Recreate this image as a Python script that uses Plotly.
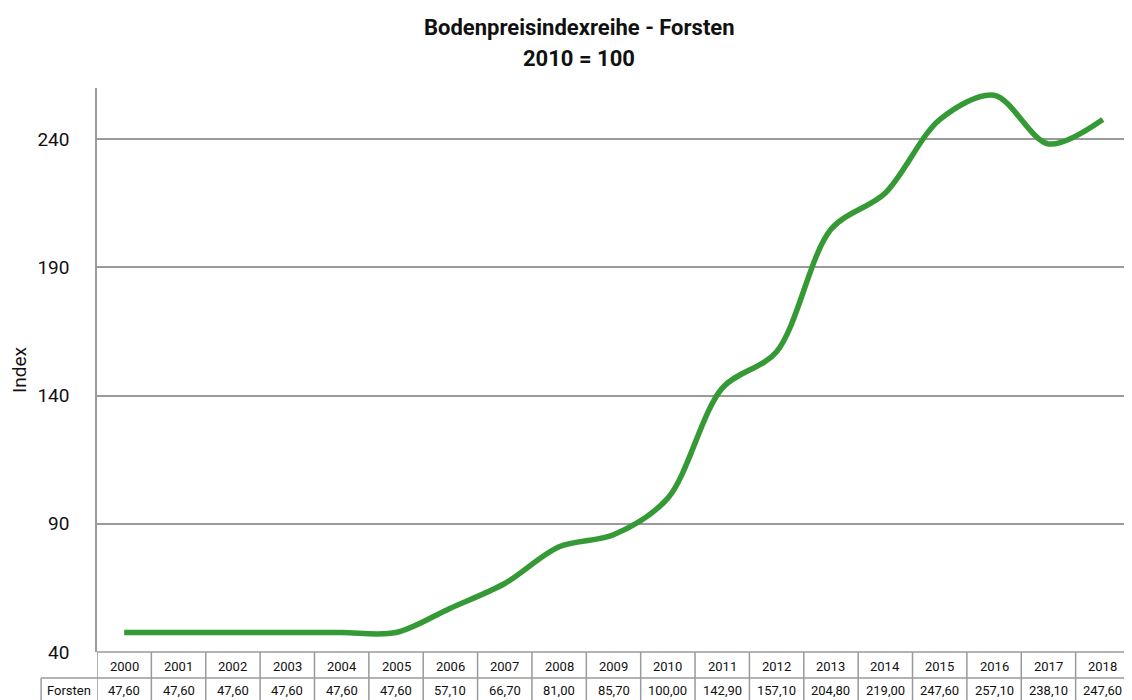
import plotly.graph_objects as go

years = ["2000", "2001", "2002", "2003", "2004", "2005", "2006", "2007", "2008", "2009",
         "2010", "2011", "2012", "2013", "2014", "2015", "2016", "2017", "2018"]
forsten = [47.6, 47.6, 47.6, 47.6, 47.6, 47.6, 57.1, 66.7, 81.0, 85.7,
           100.0, 142.9, 157.1, 204.8, 219.0, 247.6, 257.1, 238.1, 247.6]
series_name = "Forsten"
y_ticks = [40, 90, 140, 190, 240]
title_lines = ["Bodenpreisindexreihe - Forsten", "2010 = 100"]

# page body has an 8px margin, so the figure is sized to fit the 1132x700 window
W, H = 1124, 692
m_l, m_r, m_t, m_b = 87, 2, 80, 48
plot_h = H - m_t - m_b
plot_w = W - m_l - m_r
FONT = "Roboto, Liberation Sans, Arial"
GRID = "#9a9a9a"
TXT = "#111111"

def py(px):
    # pixel offset below plot bottom -> paper coordinate
    return -px / plot_h

def px_x(px):
    # pixel offset from plot left -> paper coordinate
    return px / plot_w

n = len(years)
xs = list(range(n))

fig = go.Figure()
fig.add_trace(go.Scatter(
    x=xs, y=forsten, mode="lines", name=series_name,
    line=dict(color="#359a35", width=5.5, shape="spline", smoothing=0.9),
    hoverinfo="x+y", showlegend=False,
))

shapes = []
annotations = []
row1_bot = 26
line_style = dict(color=GRID, width=1.5)
label_left = px_x(-56)
# horizontal lines of table
shapes.append(dict(type="line", xref="x", yref="paper", x0=-0.5, x1=n - 0.5,
                   y0=0, y1=0, line=line_style))
shapes.append(dict(type="line", xref="paper", yref="paper", x0=label_left, x1=1,
                   y0=py(row1_bot), y1=py(row1_bot), line=line_style))
# vertical borders
for i in range(n + 1):
    shapes.append(dict(type="line", xref="x", yref="paper", x0=i - 0.5, x1=i - 0.5,
                       y0=0, y1=py(60), line=line_style))
shapes.append(dict(type="line", xref="paper", yref="paper", x0=label_left, x1=label_left,
                   y0=py(row1_bot), y1=py(60), line=line_style))

cell_font = dict(family=FONT, size=13, color=TXT)
for i, (yr, v) in enumerate(zip(years, forsten)):
    annotations.append(dict(x=i, y=py(14), xref="x", yref="paper", text=yr,
                            showarrow=False, font=cell_font,
                            xanchor="center", yanchor="middle"))
    annotations.append(dict(x=i, y=py(38), xref="x", yref="paper",
                            text=f"{v:.2f}".replace(".", ","), showarrow=False,
                            font=cell_font, xanchor="center", yanchor="middle"))
annotations.append(dict(x=px_x(-28), y=py(38), xref="paper", yref="paper",
                        text=series_name, showarrow=False, font=cell_font,
                        xanchor="center", yanchor="middle"))

# title lines
title_cx = px_x(570 - m_l)
for k, (t, ypix) in enumerate(zip(title_lines, [20, 50])):
    annotations.append(dict(x=title_cx, y=1 + (m_t - ypix) / plot_h, xref="paper", yref="paper",
                            text=f"<b>{t}</b>", showarrow=False,
                            font=dict(family=FONT, size=22, color=TXT),
                            xanchor="center", yanchor="middle"))

fig.update_layout(
    width=W, height=H,
    margin=dict(l=m_l, r=m_r, t=m_t, b=m_b),
    paper_bgcolor="white", plot_bgcolor="white",
    xaxis=dict(range=[-0.5, n - 0.5], showticklabels=False, showgrid=False,
               zeroline=False, showline=False, ticks=""),
    yaxis=dict(range=[40, 259.9], tickvals=y_ticks, showgrid=True, gridcolor=GRID,
               gridwidth=1.5, zeroline=False, showline=True, linecolor=GRID, linewidth=1.5,
               ticks="", tickfont=dict(family=FONT, size=19, color=TXT), ticklabelstandoff=22,
               title=dict(text="Index", font=dict(family=FONT, size=19, color=TXT), standoff=14)),
    shapes=shapes, annotations=annotations,
)

fig.write_html("out.html")
